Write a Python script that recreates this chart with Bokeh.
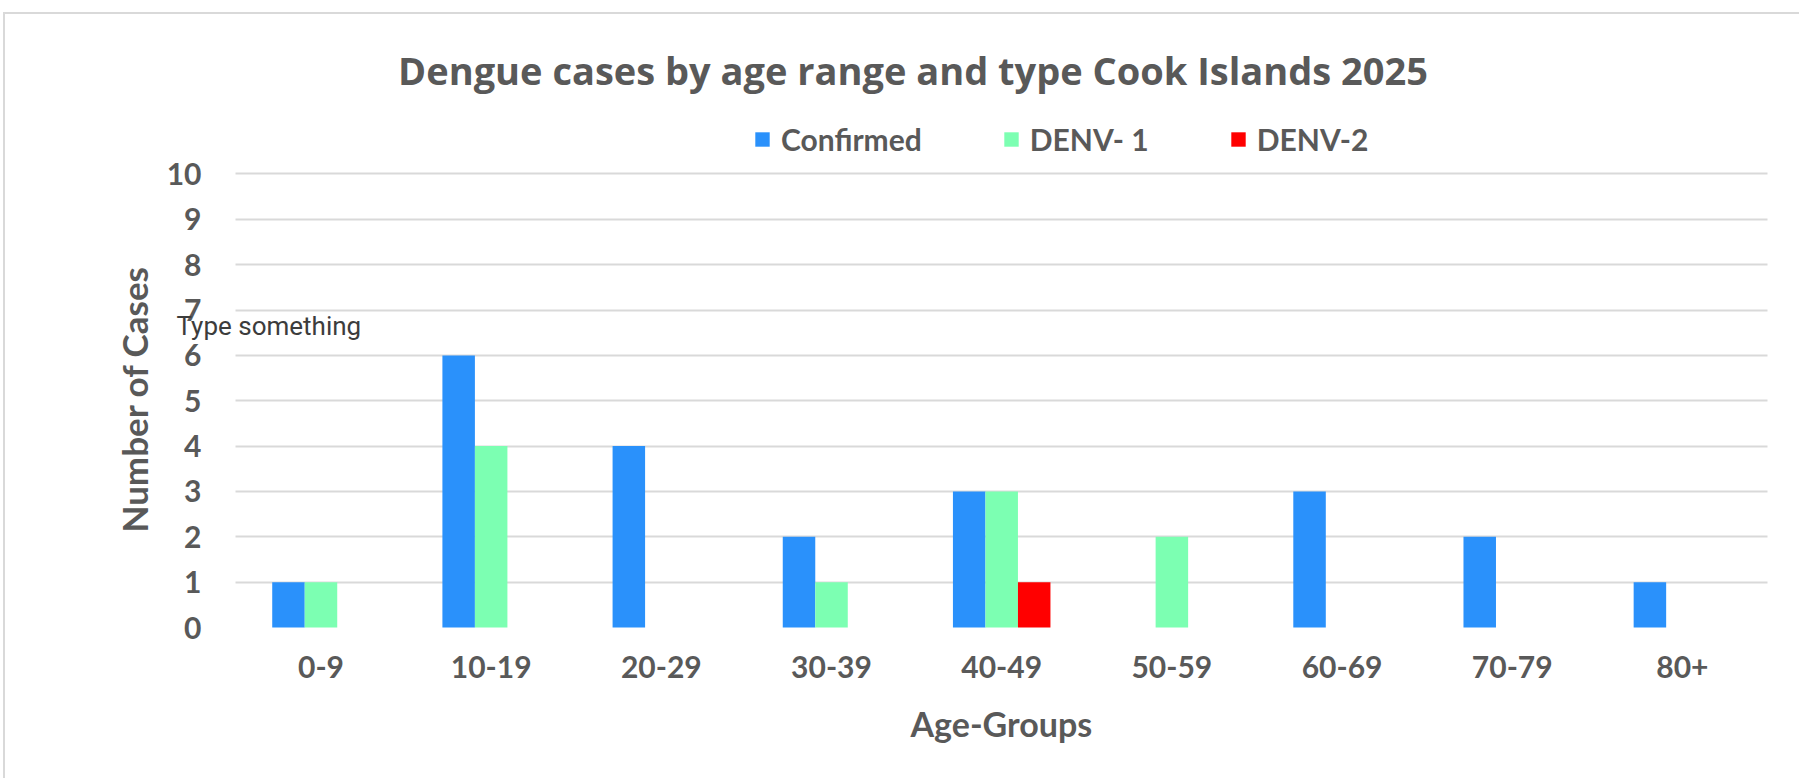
from bokeh.plotting import figure
from bokeh.models import (ColumnDataSource, Range1d, Legend, LegendItem, Label, FixedTicker, Title)
from bokeh.transform import dodge
from bokeh.embed import file_html
from bokeh.resources import INLINE

# ---- data ----
age_groups = ["0-9", "10-19", "20-29", "30-39", "40-49", "50-59", "60-69", "70-79", "80+"]
confirmed = [1, 6, 4, 2, 3, 0, 3, 2, 1]
denv1 = [1, 4, 0, 1, 3, 2, 0, 0, 0]
denv2 = [0, 0, 0, 0, 1, 0, 0, 0, 0]
series_names = ["Confirmed", "DENV- 1", "DENV-2"]
series_colors = ["#2A91FB", "#7CFFB2", "#FF0000"]
y_ticks = [0, 1, 2, 3, 4, 5, 6, 7, 8, 9, 10]

title_text = "Dengue cases by age range and type Cook Islands 2025"
x_title = "Age-Groups"
y_title = "Number of Cases"
note_text = "Type something"

FONT = "Lato"
TXT = "#595959"

idx = list(range(len(age_groups)))
src = ColumnDataSource(dict(idx=idx, age=age_groups, confirmed=confirmed, denv1=denv1, denv2=denv2))

W, H = 1796, 766
p = figure(width=W, height=H, output_backend="svg", toolbar_location=None,
           x_range=Range1d(-0.9724, 8.6998), y_range=Range1d(0, 13.517),
           min_border_left=150, min_border_right=0, min_border_top=0, min_border_bottom=153,
           styles={"margin-left": "3px", "margin-top": "12px",
                   "border-left": "2px solid #D9D9D9", "border-top": "2px solid #D9D9D9"})
p.title.text = ""

bw = 0.191
cols = ["confirmed", "denv1", "denv2"]
offsets = [-bw, 0.0, bw]
renderers = []
for col, off, c in zip(cols, offsets, series_colors):
    r = p.vbar(x=dodge("idx", off), top=col, width=bw, source=src,
               fill_color=c, line_color=None, level="overlay")
    renderers.append(r)

# axes
p.yaxis.ticker = FixedTicker(ticks=y_ticks)
p.xaxis.ticker = FixedTicker(ticks=idx)
p.xaxis.major_label_overrides = {i: a for i, a in zip(idx, age_groups)}
for ax in (p.xaxis[0], p.yaxis[0]):
    ax.axis_line_color = None
    ax.major_tick_line_color = None
    ax.minor_tick_line_color = None
    ax.major_tick_in = 0
    ax.major_tick_out = 0
    ax.major_label_text_font = FONT
    ax.major_label_text_font_style = "bold"
    ax.major_label_text_font_size = "30px"
    ax.major_label_text_color = TXT

p.yaxis.major_label_standoff = -46
p.xaxis.major_label_standoff = 28

# axis titles (placed relative to the category / value area)
ytitle = Title(text=y_title, align="left", offset=95, vertical_align="bottom", standoff=2,
               text_font=FONT, text_font_style="bold", text_font_size="35px", text_color=TXT)
xtitle = Title(text=x_title, align="left", offset=755, vertical_align="top", standoff=44,
               text_font=FONT, text_font_style="bold", text_font_size="34px", text_color=TXT)
p.add_layout(ytitle, "left")
p.add_layout(xtitle, "below")

# horizontal gridlines spanning the category area only
p.xgrid.grid_line_color = None
try:
    p.ygrid.cross_bounds = (-0.5, len(age_groups) - 0.5)
    p.ygrid.grid_line_color = "#D9D9D9"
    p.ygrid.grid_line_width = 2
except AttributeError:
    p.ygrid.grid_line_color = None
    p.segment(x0=[-0.5] * len(y_ticks), x1=[len(age_groups) - 0.5] * len(y_ticks),
              y0=y_ticks, y1=y_ticks, line_color="#D9D9D9", line_width=2)
p.outline_line_color = None

# legend
items = [LegendItem(label=n, renderers=[r]) for n, r in zip(series_names, renderers)]
legend = Legend(items=items, orientation="horizontal", location=(598, 470),
                glyph_width=18, glyph_height=18, label_height=18, label_standoff=10, spacing=80,
                padding=0, margin=0, border_line_color=None, background_fill_alpha=0,
                label_text_font=FONT, label_text_font_style="bold",
                label_text_font_size="30px", label_text_color=TXT)
p.add_layout(legend, "center")

# title
p.add_layout(Label(x=3.479, y=12.29, text=title_text, text_align="center",
                   text_baseline="alphabetic", text_font="Open Sans", text_font_style="bold",
                   text_font_size="38px", text_color=TXT))

# overlay note
p.add_layout(Label(x=-0.849, y=6.659, text=note_text, text_align="left",
                   text_baseline="alphabetic", text_font="Roboto",
                   text_font_size="26px", text_color="#3C3C3C"))

open("out.html", "w").write(file_html(p, INLINE))
